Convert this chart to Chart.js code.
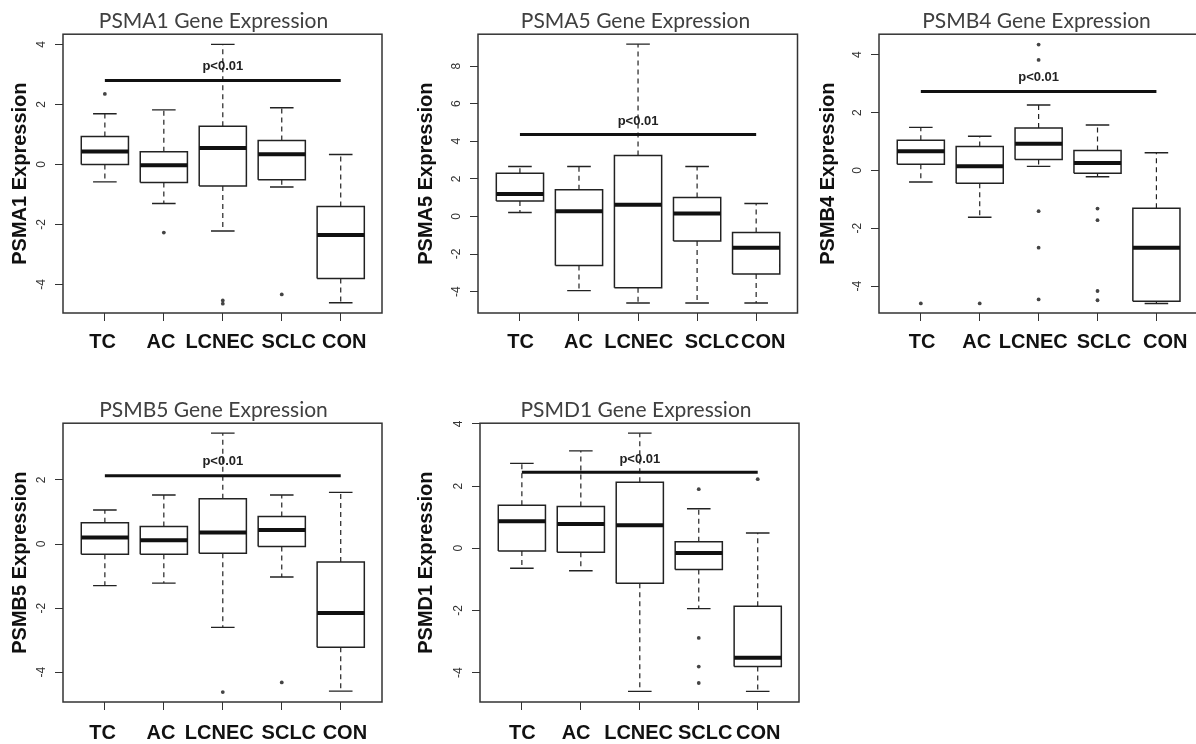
<!DOCTYPE html>
<html>
<head>
<meta charset="utf-8">
<script src="https://cdn.jsdelivr.net/npm/chart.js@4.4.1/dist/chart.umd.min.js"></script>
<style>
  html, body { margin: 0; padding: 0; background: #ffffff; overflow: hidden; width: 1196px; height: 744px; }
  .panel { position: absolute; }
</style>
</head>
<body>
<div class="panel" id="p1"><canvas id="c1"></canvas></div>
<div class="panel" id="p2"><canvas id="c2"></canvas></div>
<div class="panel" id="p3"><canvas id="c3"></canvas></div>
<div class="panel" id="p4"><canvas id="c4"></canvas></div>
<div class="panel" id="p5"><canvas id="c5"></canvas></div>
<script>
// ---------------- DATA ----------------
const categories = ['TC', 'AC', 'LCNEC', 'SCLC', 'CON'];

// PSMA1
const psma1Lower    = [-0.58, -1.30, -2.22, -0.75, -4.61];
const psma1Q1       = [ 0.00, -0.60, -0.72, -0.51, -3.80];
const psma1Median   = [ 0.43, -0.03,  0.55,  0.34, -2.35];
const psma1Q3       = [ 0.93,  0.42,  1.27,  0.80, -1.40];
const psma1Upper    = [ 1.69,  1.82,  4.00,  1.89,  0.33];
const psma1Outliers = [[2.35], [-2.27], [-4.53, -4.64], [-4.33], []];
const psma1PBar = 2.80, psma1PText = 3.28;
const psma1YTicks = [-4, -2, 0, 2, 4];

// PSMA5
const psma5Lower    = [ 0.21, -3.95, -4.61, -4.61, -4.61];
const psma5Q1       = [ 0.82, -2.61, -3.79, -1.31, -3.07];
const psma5Median   = [ 1.19,  0.28,  0.62,  0.16, -1.67];
const psma5Q3       = [ 2.30,  1.42,  3.24,  1.01, -0.85];
const psma5Upper    = [ 2.66,  2.66,  9.17,  2.66,  0.69];
const psma5Outliers = [[], [], [], [], []];
const psma5PBar = 4.36, psma5PText = 5.05;
const psma5YTicks = [-4, -2, 0, 2, 4, 6, 8];

// PSMB4
const psmb4Lower    = [-0.40, -1.62,  0.14, -0.22, -4.60];
const psmb4Q1       = [ 0.21, -0.44,  0.38, -0.10, -4.52];
const psmb4Median   = [ 0.66,  0.14,  0.92,  0.26, -2.67];
const psmb4Q3       = [ 1.04,  0.83,  1.47,  0.69, -1.31];
const psmb4Upper    = [ 1.49,  1.18,  2.26,  1.57,  0.61];
const psmb4Outliers = [[-4.60], [-4.60], [4.35, 3.82, -1.41, -2.67, -4.46], [-1.32, -1.72, -4.17, -4.49], []];
const psmb4PBar = 2.73, psmb4PText = 3.21;
const psmb4YTicks = [-4, -2, 0, 2, 4];

// PSMB5
const psmb5Lower    = [-1.30, -1.22, -2.60, -1.03, -4.59];
const psmb5Q1       = [-0.32, -0.32, -0.29, -0.08, -3.22];
const psmb5Median   = [ 0.20,  0.12,  0.36,  0.44, -2.15];
const psmb5Q3       = [ 0.66,  0.55,  1.41,  0.86, -0.56];
const psmb5Upper    = [ 1.06,  1.53,  3.46,  1.53,  1.61];
const psmb5Outliers = [[], [], [-4.62], [-4.32], []];
const psmb5PBar = 2.13, psmb5PText = 2.57;
const psmb5YTicks = [-4, -2, 0, 2];

// PSMD1
const psmd1Lower    = [-0.64, -0.72, -4.60, -1.94, -4.60];
const psmd1Q1       = [-0.09, -0.13, -1.12, -0.68, -3.80];
const psmd1Median   = [ 0.87,  0.78,  0.74, -0.15, -3.52];
const psmd1Q3       = [ 1.38,  1.34,  2.12,  0.21, -1.86];
const psmd1Upper    = [ 2.73,  3.13,  3.70,  1.27,  0.49];
const psmd1Outliers = [[], [], [], [1.90, -2.88, -3.80, -4.33], [2.22]];
const psmd1PBar = 2.44, psmd1PText = 2.87;
const psmd1YTicks = [-4, -2, 0, 2, 4];

const pLabel = 'p<0.01';

// ---------------- STYLE / LAYOUT ----------------
const BOX_HALF = 0.4, CAP_HALF = 0.2;
const X_MIN = 0.29;

const framePlugin = {
  id: 'frame',
  afterDatasetsDraw(chart) {
    const a = chart.chartArea, ctx = chart.ctx;
    ctx.save();
    ctx.strokeStyle = '#333';
    ctx.lineWidth = 1.5;
    ctx.strokeRect(a.left, a.top, a.right - a.left, a.bottom - a.top);
    ctx.restore();
  }
};
const pTextPlugin = {
  id: 'pText',
  beforeDatasetsDraw(chart, args, opts) {
    const ctx = chart.ctx;
    const x = chart.scales.x.getPixelForValue(opts.x);
    const y = chart.scales.y.getPixelForValue(opts.y);
    ctx.save();
    ctx.font = 'bold 13px "Liberation Sans", Arial, sans-serif';
    ctx.fillStyle = '#222';
    ctx.textAlign = 'center';
    ctx.textBaseline = 'middle';
    ctx.fillText(opts.text, x, y);
    ctx.restore();
  }
};

function segData(list) {
  const out = [];
  list.forEach(seg => { seg.forEach(p => out.push(p)); out.push({ x: seg[0].x, y: null }); });
  return out;
}

function makePanel(id, divId, box, lay) {
  const div = document.getElementById(divId);
  div.style.left = lay.left + 'px';
  div.style.top = lay.top + 'px';
  div.style.width = lay.width + 'px';
  div.style.height = lay.height + 'px';

  const n = categories.length;
  const boxes = [], medians = [], whiskers = [], caps = [], outs = [];
  for (let i = 0; i < n; i++) {
    const x = i + 1;
    boxes.push([{x: x - BOX_HALF, y: box.q1[i]}, {x: x + BOX_HALF, y: box.q1[i]},
                {x: x + BOX_HALF, y: box.q3[i]}, {x: x - BOX_HALF, y: box.q3[i]},
                {x: x - BOX_HALF, y: box.q1[i]}]);
    medians.push([{x: x - BOX_HALF, y: box.median[i]}, {x: x + BOX_HALF, y: box.median[i]}]);
    whiskers.push([{x: x, y: box.q3[i]}, {x: x, y: box.upper[i]}]);
    whiskers.push([{x: x, y: box.q1[i]}, {x: x, y: box.lower[i]}]);
    caps.push([{x: x - CAP_HALF, y: box.upper[i]}, {x: x + CAP_HALF, y: box.upper[i]}]);
    caps.push([{x: x - CAP_HALF, y: box.lower[i]}, {x: x + CAP_HALF, y: box.lower[i]}]);
    box.outliers[i].forEach(v => outs.push({x: x, y: v}));
  }
  const pBar = [{x: 1, y: box.pBar}, {x: n, y: box.pBar}];

  const lineDs = (data, w, dash, color) => ({
    data, showLine: true, spanGaps: false, borderColor: color, borderWidth: w,
    borderDash: dash, pointRadius: 0, pointHoverRadius: 0, fill: false,
    borderJoinStyle: 'miter', borderCapStyle: 'butt'
  });

  new Chart(document.getElementById(id), {
    type: 'scatter',
    data: {
      datasets: [
        { data: outs, showLine: false, pointRadius: 1.9, pointBackgroundColor: '#444', pointBorderWidth: 0 },
        lineDs(pBar, 3, [], '#111'),
        lineDs(segData(medians), 4, [], '#111'),
        lineDs(segData(boxes), 1.5, [], '#222'),
        lineDs(segData(caps), 1.4, [], '#222'),
        lineDs(segData(whiskers), 1.2, [5, 4], '#222')
      ]
    },
    options: {
      responsive: true,
      maintainAspectRatio: false,
      animation: false,
      events: [],
      layout: { padding: 0 },
      plugins: {
        legend: { display: false },
        tooltip: { enabled: false },
        title: {
          display: true, text: box.title, color: '#404040',
          font: { family: 'Lato', size: 21, weight: 'normal', lineHeight: 1.2 },
          padding: { top: 9, bottom: 0 }
        },
        pText: { x: (n + 1) / 2, y: box.pText, text: pLabel }
      },
      scales: {
        x: {
          type: 'linear', position: 'bottom', weight: 0, min: X_MIN, max: lay.xMax,
          afterBuildTicks: s => { s.ticks = categories.map((c, i) => ({ value: i + 1 })); },
          afterFit: s => { s.height = 8; },
          grid: { drawOnChartArea: false, drawTicks: true, tickLength: 8, color: '#333', lineWidth: 1 },
          border: { display: false },
          ticks: { display: false }
        },
        xLabels: {
          type: 'linear', position: 'bottom', weight: 1, min: X_MIN, max: lay.xMax,
          afterBuildTicks: s => { s.ticks = lay.labelPos.map(v => ({ value: v })); },
          afterFit: s => { s.height = lay.xAxisH - 8; },
          grid: { display: false, drawTicks: false, tickLength: 0 },
          border: { display: false },
          ticks: {
            autoSkip: false, maxRotation: 0, minRotation: 0, padding: lay.xPad,
            color: '#111', font: { family: 'Liberation Sans', size: 20, weight: 'bold' },
            callback: (v, i) => categories[i]
          }
        },
        y: {
          type: 'linear', position: 'left', min: box.yMin, max: box.yMax,
          afterBuildTicks: s => { s.ticks = box.yTicks.map(v => ({ value: v })); },
          afterFit: s => { s.width = lay.yAxisW; },
          grid: { drawOnChartArea: false, drawTicks: true, tickLength: 8, color: '#333', lineWidth: 1 },
          border: { display: false },
          ticks: {
            minRotation: 90, maxRotation: 90, crossAlign: 'center', padding: 8,
            color: '#333', font: { family: 'Liberation Sans', size: 12 },
            callback: v => String(v)
          },
          title: {
            display: true, text: box.yTitle, color: '#111',
            font: { family: 'Liberation Sans', size: 20, weight: 'bold', lineHeight: 1.2 },
            padding: { top: lay.yTitlePad, bottom: 0 }
          }
        },
        yR: {
          type: 'linear', position: 'right', display: true,
          grid: { display: false }, border: { display: false },
          ticks: { display: false },
          afterFit: s => { s.width = lay.rightW; }
        }
      }
    },
    plugins: [framePlugin, pTextPlugin]
  });
}

makePanel('c1', 'p1', {
  title: 'PSMA1 Gene Expression', yTitle: 'PSMA1 Expression',
  lower: psma1Lower, q1: psma1Q1, median: psma1Median, q3: psma1Q3, upper: psma1Upper,
  outliers: psma1Outliers, pBar: psma1PBar, pText: psma1PText,
  yMin: -4.95, yMax: 4.34, yTicks: psma1YTicks
}, { left: 0, top: 0, width: 427, height: 370, yAxisW: 63, rightW: 45, xAxisH: 57, xPad: 9, yTitlePad: 8.5,
     xMax: 5.70, labelPos: [0.96, 1.95, 2.95, 4.12, 5.06] });

makePanel('c2', 'p2', {
  title: 'PSMA5 Gene Expression', yTitle: 'PSMA5 Expression',
  lower: psma5Lower, q1: psma5Q1, median: psma5Median, q3: psma5Q3, upper: psma5Upper,
  outliers: psma5Outliers, pBar: psma5PBar, pText: psma5PText,
  yMin: -5.14, yMax: 9.70, yTicks: psma5YTicks
}, { left: 400, top: 0, width: 471, height: 370, yAxisW: 78, rightW: 73.5, xAxisH: 57, xPad: 9, yTitlePad: 14.7,
     xMax: 5.70, labelPos: [1.01, 1.99, 3.01, 4.25, 5.12] });

makePanel('c3', 'p3', {
  title: 'PSMB4 Gene Expression', yTitle: 'PSMB4 Expression',
  lower: psmb4Lower, q1: psmb4Q1, median: psmb4Median, q3: psmb4Q3, upper: psmb4Upper,
  outliers: psmb4Outliers, pBar: psmb4PBar, pText: psmb4PText,
  yMin: -4.93, yMax: 4.71, yTicks: psmb4YTicks
}, { left: 800, top: 0, width: 473, height: 370, yAxisW: 79, rightW: 73, xAxisH: 57, xPad: 9, yTitlePad: 16.3,
     xMax: 5.74, labelPos: [1.02, 1.95, 2.91, 4.11, 5.15] });

makePanel('c4', 'p4', {
  title: 'PSMB5 Gene Expression', yTitle: 'PSMB5 Expression',
  lower: psmb5Lower, q1: psmb5Q1, median: psmb5Median, q3: psmb5Q3, upper: psmb5Upper,
  outliers: psmb5Outliers, pBar: psmb5PBar, pText: psmb5PText,
  yMin: -4.93, yMax: 3.77, yTicks: psmb5YTicks
}, { left: 0, top: 389, width: 427, height: 355, yAxisW: 63, rightW: 45, xAxisH: 42, xPad: 11.5, yTitlePad: 8.7,
     xMax: 5.70, labelPos: [0.96, 1.95, 2.94, 4.12, 5.07] });

makePanel('c5', 'p5', {
  title: 'PSMD1 Gene Expression', yTitle: 'PSMD1 Expression',
  lower: psmd1Lower, q1: psmd1Q1, median: psmd1Median, q3: psmd1Q3, upper: psmd1Upper,
  outliers: psmd1Outliers, pBar: psmd1PBar, pText: psmd1PText,
  yMin: -4.94, yMax: 4.02, yTicks: psmd1YTicks
}, { left: 400, top: 389, width: 472, height: 355, yAxisW: 80, rightW: 73, xAxisH: 42, xPad: 11.5, yTitlePad: 14.7,
     xMax: 5.70, labelPos: [1.01, 1.92, 2.98, 4.11, 5.01] });
</script>
</body>
</html>
